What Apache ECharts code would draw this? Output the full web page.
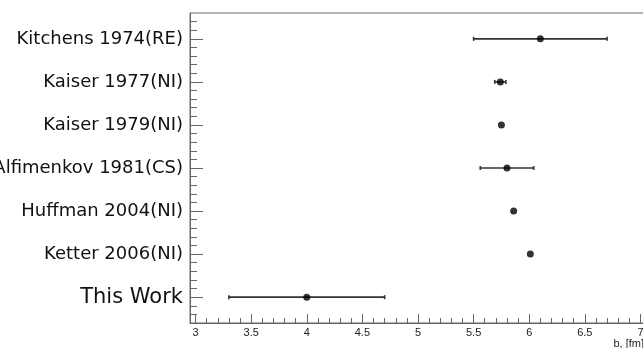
<!DOCTYPE html>
<html>
<head>
<meta charset="utf-8">
<script src="https://cdn.jsdelivr.net/npm/echarts@6/dist/echarts.min.js"></script>
<style>html,body{margin:0;padding:0;background:#fff;}#c{width:643px;height:348px;}</style>
</head>
<body>
<div id="c"></div>
<script>
const categories = ['Kitchens 1974(RE)', 'Kaiser 1977(NI)', 'Kaiser 1979(NI)', 'Alfimenkov 1981(CS)', 'Huffman 2004(NI)', 'Ketter 2006(NI)', 'This Work'];
const values = [6.10, 5.74, 5.75, 5.80, 5.86, 6.01, 4.00];
const errors = [0.60, 0.05, 0, 0.24, 0, 0, 0.70];
const xTickLabels = [3, 3.5, 4, 4.5, 5, 5.5, 6, 6.5, 7];
const xTitle = 'b, [fm]';

const chart = echarts.init(document.getElementById('c'), null, {renderer: 'canvas'});

const xMinor = [];
for (let i = 30; i <= 70; i++) { if (i % 5 !== 0) xMinor.push(i / 10); }
const yMajor = categories.map((c, i) => i);
const yMinor = [];
for (let i = -2; i <= 32; i++) { if (i % 5 !== 0) yMinor.push(i / 5); }

const pts = values.map((v, i) => [v, i]);
const bars = values.map((v, i) => [v - errors[i], v + errors[i], i, errors[i]]);

const axisCol = '#666';
const labFont = 'DejaVu Sans';
chart.setOption({
  animation: false,
  grid: {left: 190, top: 13, width: 456, height: 310, show: true, borderColor: axisCol, borderWidth: 1,
         containLabel: false, outerBoundsMode: 'none'},
  xAxis: [{
    type: 'value', min: 2.95, max: 7.05, position: 'bottom',
    splitLine: {show: false},
    axisLine: {show: true, onZero: false, lineStyle: {color: axisCol}},
    axisTick: {show: true, inside: true, length: 9, customValues: xTickLabels, lineStyle: {color: axisCol}},
    axisLabel: {show: true, customValues: xTickLabels, color: '#222', fontSize: 11, margin: 4, fontFamily: 'Liberation Sans'},
    name: xTitle, nameLocation: 'end', nameGap: -2,
    nameTextStyle: {align: 'right', verticalAlign: 'top', padding: [15, 0, 0, 0], fontSize: 11, color: '#222', fontFamily: 'Liberation Sans'}
  }, {
    type: 'value', min: 2.95, max: 7.05, position: 'bottom',
    splitLine: {show: false},
    axisLine: {show: false, onZero: false},
    axisTick: {show: true, inside: true, length: 5, customValues: xMinor, lineStyle: {color: axisCol}},
    axisLabel: {show: false}
  }],
  yAxis: [{
    type: 'value', min: -0.6, max: 6.6, inverse: true, position: 'left',
    splitLine: {show: false},
    axisLine: {show: true, onZero: false, lineStyle: {color: axisCol}},
    axisTick: {show: true, inside: true, length: 13, customValues: yMajor, lineStyle: {color: axisCol}},
    axisLabel: {
      show: true, customValues: yMajor, margin: 7, color: '#111',
      fontFamily: labFont,
      formatter: v => {
        const i = Math.round(v);
        return i === categories.length - 1 ? '{big|' + categories[i] + '}' : '{n|' + categories[i] + '}';
      },
      rich: {
        n: {fontSize: 18, fontFamily: labFont, color: '#111'},
        big: {fontSize: 21, fontFamily: labFont, color: '#111'}
      }
    }
  }, {
    type: 'value', min: -0.6, max: 6.6, inverse: true, position: 'left', offset: 0,
    splitLine: {show: false},
    axisLine: {show: false, onZero: false},
    axisTick: {show: true, inside: true, length: 7, customValues: yMinor, lineStyle: {color: axisCol}},
    axisLabel: {show: false}
  }],
  series: [{
    type: 'custom',
    data: bars,
    renderItem: (params, api) => {
      if (api.value(3) <= 0) return null;
      const y = api.value(2);
      const p1 = api.coord([api.value(0), y]);
      const p2 = api.coord([api.value(1), y]);
      const st = {stroke: '#333', lineWidth: 1.6};
      return {type: 'group', children: [
        {type: 'line', shape: {x1: p1[0], y1: p1[1], x2: p2[0], y2: p2[1]}, style: st},
        {type: 'line', shape: {x1: p1[0], y1: p1[1] - 2, x2: p1[0], y2: p1[1] + 2}, style: st},
        {type: 'line', shape: {x1: p2[0], y1: p2[1] - 2, x2: p2[0], y2: p2[1] + 2}, style: st}
      ]};
    },
    encode: {x: [0, 1], y: 2},
    z: 2
  }, {
    type: 'scatter',
    data: pts,
    symbol: 'circle',
    symbolSize: 7,
    itemStyle: {color: '#000'},
    z: 3
  }]
});
</script>
</body>
</html>
